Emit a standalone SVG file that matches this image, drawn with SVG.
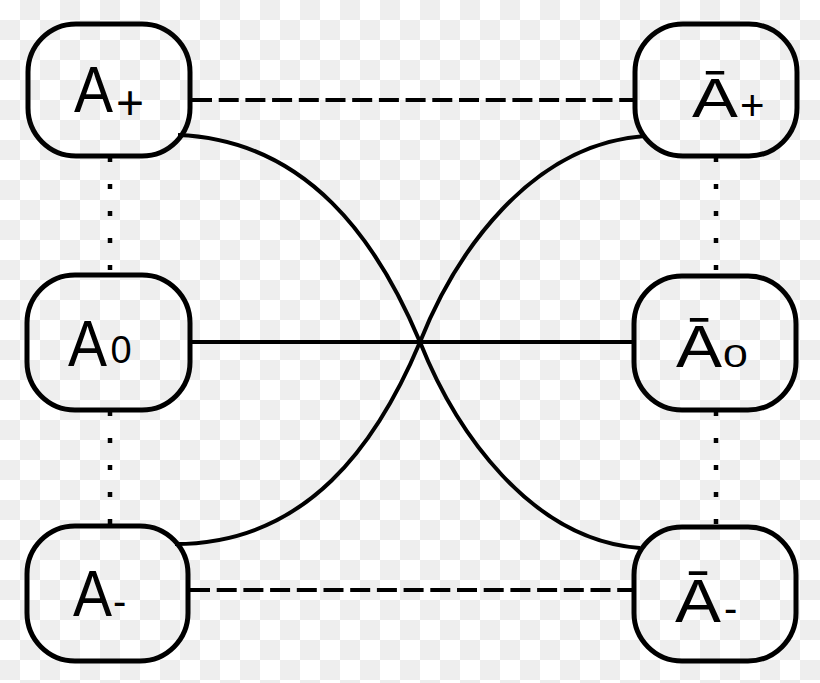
<svg xmlns="http://www.w3.org/2000/svg" width="820" height="683" viewBox="0 0 820 683">
<defs>
<pattern id="checker" x="0" y="0" width="40" height="40" patternUnits="userSpaceOnUse">
<rect x="0" y="0" width="40" height="40" fill="#ffffff"/>
<rect x="20" y="0" width="20" height="20" fill="#eeeeee"/>
<rect x="0" y="20" width="20" height="20" fill="#eeeeee"/>
</pattern>
<style>
.box{fill:none;stroke:#000;stroke-width:5}
.lbl{font-family:"Liberation Sans",Arial,sans-serif;fill:#000}
.solid{fill:none;stroke:#000;stroke-width:4}
.dash{fill:none;stroke:#000;stroke-width:4;stroke-dasharray:20 6.7}
.dot{fill:none;stroke:#000;stroke-width:4.5;stroke-dasharray:5 22}
</style>
</defs>
<rect x="0" y="0" width="820" height="683" fill="url(#checker)"/>
<g id="connectors">
<line class="dash" x1="192" y1="100" x2="634" y2="100"/>
<line class="dash" x1="190" y1="590" x2="634" y2="590"/>
<line class="solid" x1="190" y1="342" x2="634" y2="342"/>
<line class="dot" x1="110" y1="157" x2="110" y2="274"/>
<line class="dot" x1="110" y1="411" x2="110" y2="526"/>
<line class="dot" x1="716" y1="157" x2="716" y2="275"/>
<line class="dot" x1="716" y1="411" x2="716" y2="527"/>
<path class="solid" d="M178,135 C308,140 378,242 420,342 C455,430 530,540 640,548"/>
<path class="solid" d="M175,544 C308,544 378,442 420,342 C455,254 530,144 645,136"/>
</g>
<g id="A-plus">
<rect class="box" x="28" y="24" width="162" height="132" rx="48"/>
<text class="lbl" font-size="65" transform="translate(74,112) scale(0.9,1)">A</text>
<text class="lbl" font-size="48" x="116" y="119">+</text>
</g>
<g id="A-zero">
<rect class="box" x="27" y="275" width="163" height="135" rx="48"/>
<text class="lbl" font-size="65" transform="translate(68,366) scale(0.9,1)">A</text>
<text class="lbl" font-size="38" x="110.4" y="363">0</text>
</g>
<g id="A-minus">
<rect class="box" x="27" y="526" width="161" height="135" rx="48"/>
<text class="lbl" font-size="65" transform="translate(73,616) scale(0.9,1)">A</text>
<text class="lbl" font-size="40" x="113" y="615">-</text>
</g>
<g id="Abar-plus">
<rect class="box" x="635" y="24" width="162" height="132" rx="48"/>
<text class="lbl" font-size="55" transform="translate(692,117) scale(1.25,1)">Ā</text>
<text class="lbl" font-size="42" x="740" y="120">+</text>
</g>
<g id="Abar-zero">
<rect class="box" x="634" y="276" width="162" height="134" rx="48"/>
<text class="lbl" font-size="59" transform="translate(676,367) scale(1.17,1)">Ā</text>
<text class="lbl" font-size="31" transform="translate(723,367) scale(1.44,1)">0</text>
</g>
<g id="Abar-minus">
<rect class="box" x="634" y="527" width="162" height="134" rx="48"/>
<text class="lbl" font-size="62" transform="translate(675,622) scale(1.11,1)">Ā</text>
<text class="lbl" font-size="40" x="724" y="622">-</text>
</g>
</svg>
